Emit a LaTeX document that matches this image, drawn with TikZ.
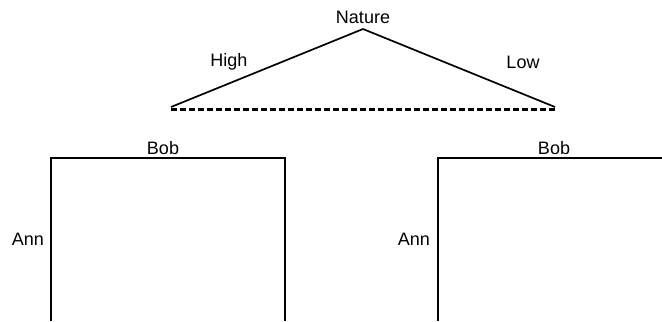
\documentclass[tikz,border=0pt]{standalone}
\usepackage{fontspec}
\setmainfont{Liberation Sans}
\begin{document}
\begin{tikzpicture}[x=1bp, y=-1bp, font=\fontsize{18bp}{20bp}\selectfont]
\useasboundingbox (0,0) rectangle (662,321);
% game tree
\coordinate (N) at (363,29);
\coordinate (H) at (171,107);
\coordinate (L) at (555,107);
\node[anchor=base, inner sep=0pt] (nature) at (363,23) {Nature};
\node[inner sep=0pt] (high) at (229,62) {High};
\node[inner sep=0pt] (low) at (523,62) {Low};
\path [-, line width=1.7bp, draw=black] (N) edge (H);
\path [-, line width=1.7bp, draw=black] (N) edge (L);
\path [-, line width=2.3bp, draw=black, dash pattern=on 6bp off 3bp] ([yshift=-2.5bp]H) edge ([yshift=-2.5bp]L);
% left matrix
\coordinate (A1) at (51,321);
\coordinate (B1) at (51,158);
\coordinate (C1) at (285,158);
\coordinate (D1) at (285,321);
\node[anchor=base, inner sep=0pt] (bob1) at (163,154) {Bob};
\node[anchor=east, inner sep=0pt] (ann1) at (44,239) {Ann};
\draw[line width=2.3bp] (A1) -- (B1) -- (C1) -- (D1);
% right matrix
\coordinate (A2) at (438,321);
\coordinate (B2) at (438,158);
\coordinate (C2) at (662,158);
\node[anchor=base, inner sep=0pt] (bob2) at (554,154) {Bob};
\node[anchor=east, inner sep=0pt] (ann2) at (430,239) {Ann};
\draw[line width=2.3bp] (A2) -- (B2) -- (C2);
\end{tikzpicture}
\end{document}
